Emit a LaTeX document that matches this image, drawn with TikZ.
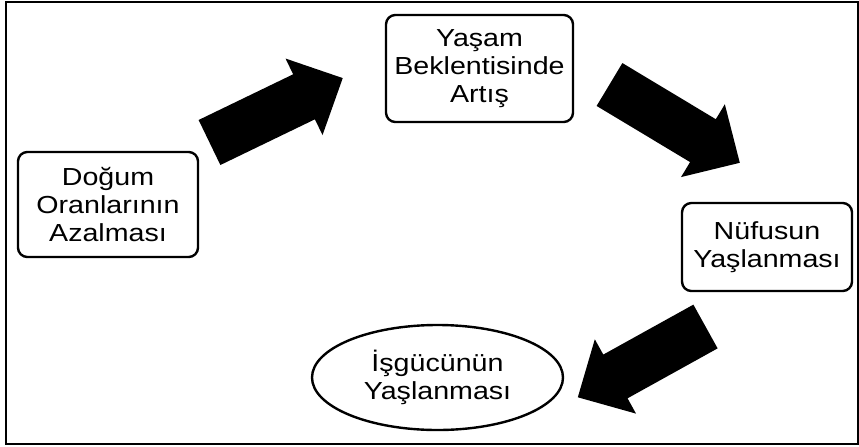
\documentclass[tikz,border=0pt]{standalone}
\usepackage{fontspec}
\setmainfont{Liberation Sans}[FakeStretch=1.16]
\usetikzlibrary{shapes.geometric}

\begin{document}
\begin{tikzpicture}[x=0.75pt,y=0.75pt,yscale=-1,xscale=1,
  stage/.style={draw, line width=1.8pt, align=center, inner sep=0pt, font=\fontsize{18.5}{21}\selectfont},
  stagebox/.style={stage, rounded corners=7pt},
  pics/fatarrow/.style={code={%
    \fill (0,-25) -- (#1-43,-25) -- (#1-43,-42.5) -- (#1,0) -- (#1-43,42.5) -- (#1-43,25) -- (0,25) -- cycle;}}]
\useasboundingbox (0,0) rectangle (859,446);

%Shape: Rectangle (frame)
\draw [line width=1.5pt] (5.5,2) rectangle (857.5,443.5);

% Text Node
\node [stagebox, minimum width=135pt, minimum height=78.75pt] (dogum) at (108,204.5) {Doğum\\Oranlarının\\Azalması};
% Text Node
\node [stagebox, minimum width=140.25pt, minimum height=80.25pt] (yasam) at (479.5,68.5) {Yaşam\\Beklentisinde\\Artış};
% Text Node
\node [stagebox, minimum width=127.5pt, minimum height=66pt] (nufus) at (767,247) {Nüfusun\\Yaşlanması};
% Text Node
\node [stage, ellipse, minimum width=188.25pt, minimum height=78.75pt] (isgucu) at (437.5,377.5) {İşgücünün\\Yaşlanması};

%Shape: Right Arrow
\pic [rotate=25.8] at (209.5,142.5) {fatarrow=148};
%Shape: Right Arrow
\pic [rotate=-31] at (609.5,84.5) {fatarrow=152};
%Shape: Right Arrow
\pic [rotate=-151] at (705.5,326.5) {fatarrow=146};

\end{tikzpicture}
\end{document}
